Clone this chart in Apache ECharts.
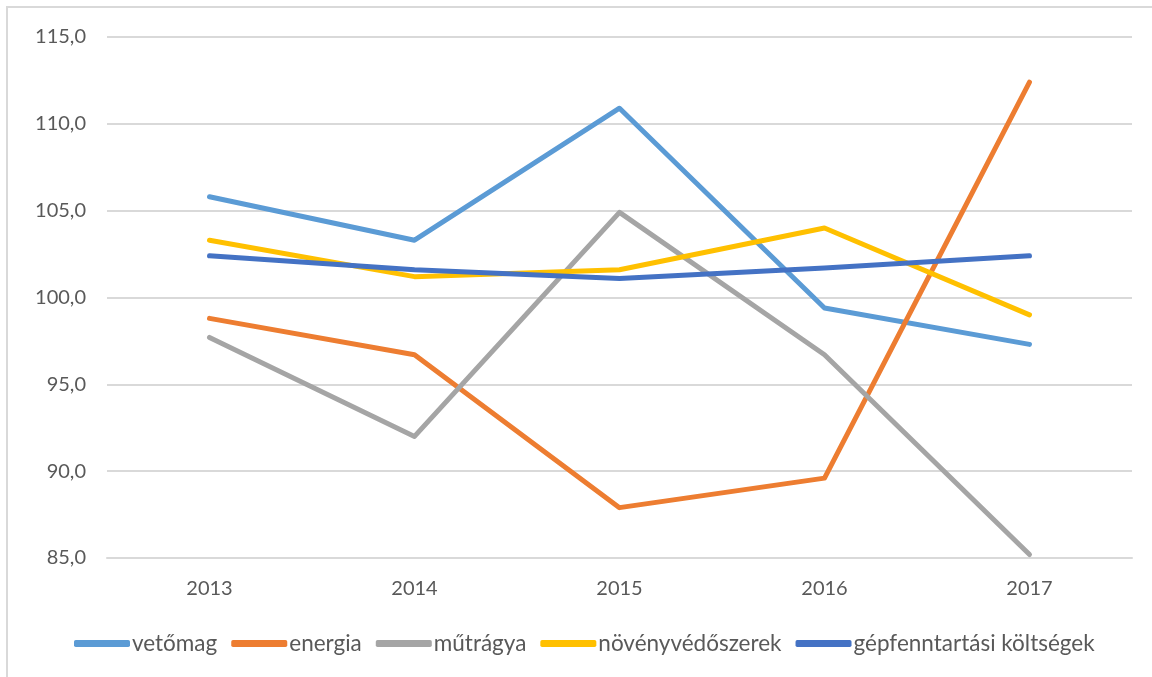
<!DOCTYPE html>
<html>
<head>
<meta charset="utf-8">
<script src="https://cdn.jsdelivr.net/npm/echarts@6/dist/echarts.min.js"></script>
<style>
  body { margin: 0; background: #fff; }
  #frame { position: absolute; left: 6px; top: 6px; width: 1146px; height: 671px;
           border-left: 2px solid #D9D9D9; border-top: 2px solid #D9D9D9; box-sizing: border-box; }
  #chart { position: absolute; left: 0; top: 0; width: 1152px; height: 677px; }
</style>
</head>
<body>
<div id="frame"></div>
<div id="chart"></div>
<script>
// kategóriák és adatsorok
var evek = ['2013', '2014', '2015', '2016', '2017'];
var vetomag = [105.8, 103.3, 110.9, 99.4, 97.3];
var energia = [98.8, 96.7, 87.9, 89.6, 112.4];
var mutragya = [97.7, 92.0, 104.9, 96.7, 85.2];
var novenyvedoszerek = [103.3, 101.2, 101.6, 104.0, 99.0];
var gepfenntartas = [102.4, 101.6, 101.1, 101.7, 102.4];

var nevek = ['vetőmag', 'energia', 'műtrágya', 'növényvédőszerek', 'gépfenntartási költségek'];
var szinek = ['#5B9BD5', '#ED7D31', '#A5A5A5', '#FFC000', '#4472C4'];
var adatok = [vetomag, energia, mutragya, novenyvedoszerek, gepfenntartas];

var chart = echarts.init(document.getElementById('chart'));

var series = adatok.map(function (d, i) {
  return {
    name: nevek[i],
    type: 'line',
    data: d,
    symbol: 'none',
    lineStyle: { width: 5, color: szinek[i], cap: 'round', join: 'round' },
    itemStyle: { color: szinek[i] }
  };
});

var option = {
  animation: false,
  textStyle: { fontFamily: 'Lato' },
  grid: { left: 107, right: 20, top: 37, bottom: 119 },
  //jelmagyarázat
  legend: {
    data: nevek,
    top: 627,
    left: 74,
    padding: [5, 0],
    icon: 'roundRect',
    itemWidth: 56,
    itemHeight: 7,
    itemGap: 14,
    textStyle: { fontSize: 22.5, color: '#595959', fontFamily: 'Lato', padding: [0, 0, 0, -3] }
  },
  xAxis: {
    type: 'category',
    data: evek,
    axisLine: { lineStyle: { color: '#D9D9D9', width: 2 } },
    axisTick: { show: false },
    axisLabel: { color: '#595959', fontSize: 20, margin: 21 }
  },
  yAxis: {
    type: 'value',
    min: 85,
    max: 115,
    interval: 5,
    axisLine: { show: false },
    axisTick: { show: false },
    splitLine: { lineStyle: { color: '#D9D9D9', width: 2 } },
    axisLabel: {
      color: '#595959', fontSize: 20, margin: 21,
      formatter: function (v) { return v.toFixed(1).replace('.', ','); }
    }
  },
  series: series
};

chart.setOption(option);
</script>
</body>
</html>
